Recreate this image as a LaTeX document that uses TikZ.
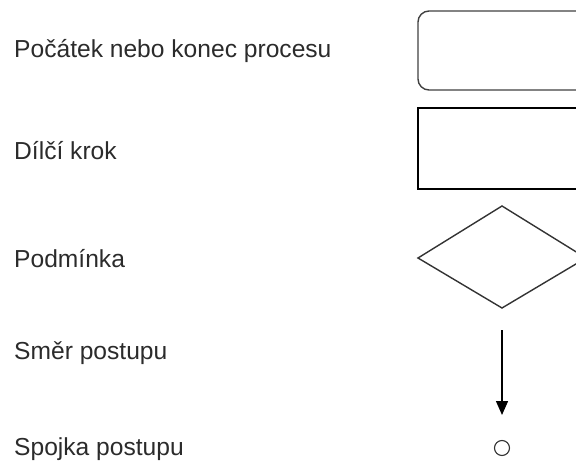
\documentclass[tikz,border=0pt]{standalone}
\usepackage{fontspec}
\setmainfont{Liberation Sans}
\usetikzlibrary{arrows.meta}
\definecolor{txt}{HTML}{2B2B2B}
\begin{document}
\begin{tikzpicture}[x=1pt,y=-1pt,
  lbl/.style={anchor=west,inner sep=0pt,text=txt,font=\fontsize{24.6}{28}\selectfont},
  shp/.style={draw=black,line width=1.4pt}]
\useasboundingbox (0,0) rectangle (576,465);
\clip (0,0) rectangle (576,465);
\node[lbl] (t1) at (14,51) {Počátek nebo konec procesu};
\node[lbl] (t2) at (14,151) {Dílčí krok};
\node[lbl] (t3) at (14,259) {Podmínka};
\node[lbl] (t4) at (14,353) {Směr postupu};
\node[lbl] (t5) at (14,449) {Spojka postupu};
\draw[shp,draw=black!75,rounded corners=11pt] (418,11) rectangle (600,90);
\draw[shp] (418,108) rectangle (600,189);
\coordinate (dl) at (418,258);
\coordinate (dt) at (502,206);
\coordinate (dr) at (586,258);
\coordinate (db) at (502,308);
\draw[shp,draw=black!80] (dl) -- (dt) -- (dr) -- (db) -- cycle;
\coordinate (a1) at (502,330);
\coordinate (a2) at (502,415);
\draw[line width=1.4pt,-{Triangle[length=14pt,width=12pt]}] (a1) -- (a2);
\node[draw=black!80,line width=1.1pt,circle,minimum size=15pt,inner sep=0pt] (c) at (502,448) {};
\end{tikzpicture}
\end{document}
